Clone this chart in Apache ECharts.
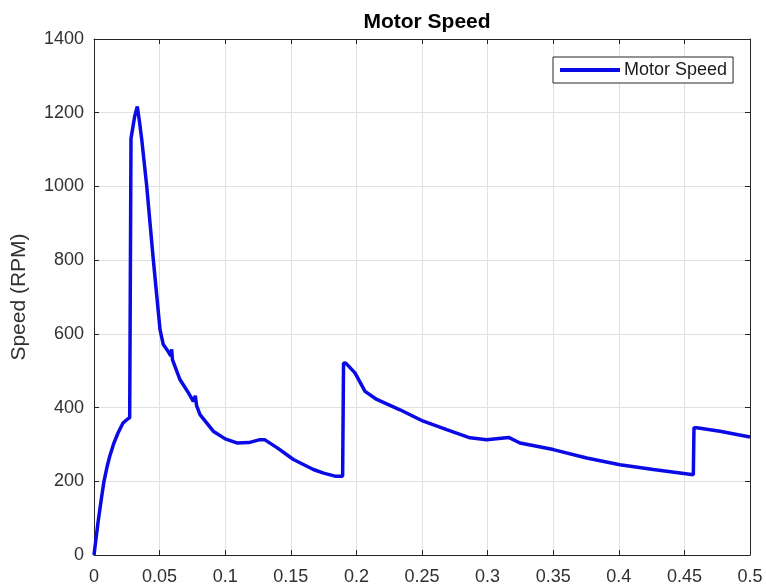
<!DOCTYPE html>
<html>
<head>
<meta charset="utf-8">
<script src="https://cdn.jsdelivr.net/npm/echarts@6/dist/echarts.min.js"></script>
<style>
  html, body { margin: 0; padding: 0; background: #fff; }
  #chart { width: 766px; height: 587px; }
</style>
</head>
<body>
<div id="chart"></div>
<script>
// 数据：时间 (s) 与转速 (RPM)
const timeS = [
  0, 0.003, 0.0055, 0.0076, 0.01, 0.012, 0.015, 0.0183, 0.0221, 0.025, 0.0272, 0.0277,
  0.0282, 0.031, 0.033, 0.0345, 0.0364, 0.0402, 0.0452, 0.0503, 0.0528,
  0.056, 0.0585, 0.0592, 0.0598, 0.0605, 0.0655, 0.072, 0.0757, 0.0772, 0.0782, 0.0808,
  0.0909, 0.0922, 0.1, 0.1088, 0.118, 0.1265, 0.13, 0.14, 0.152, 0.1672, 0.175, 0.1837,
  0.1895, 0.1902, 0.1921, 0.1989, 0.2066, 0.2155, 0.2332, 0.251, 0.2688, 0.2866, 0.2993,
  0.316, 0.3247, 0.3501, 0.3755, 0.4009, 0.4263, 0.4568, 0.4573, 0.4594, 0.4771, 0.5
];
const speedRpm = [
  0, 87, 150, 200, 240, 268, 302, 331, 358, 367, 373, 378,
  1130, 1190, 1217, 1180, 1127, 1000, 801, 612, 571,
  555, 540, 558, 530, 535, 476, 440, 417, 432, 405, 381,
  336, 331, 315, 304, 305, 313, 313, 290, 259, 232, 222, 214,
  214, 521, 520, 494, 444, 422, 394, 363, 340, 318, 313,
  319, 304, 286, 263, 245, 232, 218, 345, 345, 336, 320
];
const xTicks = [0, 0.05, 0.1, 0.15, 0.2, 0.25, 0.3, 0.35, 0.4, 0.45, 0.5];
const yTicks = [0, 200, 400, 600, 800, 1000, 1200, 1400];

const seriesData = timeS.map((t, i) => [t, speedRpm[i]]);

const chart = echarts.init(document.getElementById('chart'));
const fontFamily = 'Liberation Sans, Arial, sans-serif';
const labelFont = { fontFamily: fontFamily, fontSize: 18, color: '#303030' };

const axisCommon = {
  axisLine: { show: true, onZero: false, lineStyle: { color: '#262626', width: 1 } },
  axisTick: { show: true, inside: true, length: 5, lineStyle: { color: '#262626' } },
  splitLine: { show: true, lineStyle: { color: '#e0e0e0', width: 1 } }
};

chart.setOption({
  animation: false,
  backgroundColor: '#fff',
  title: {
    text: 'Motor Speed',
    left: 422, top: 7, textAlign: 'center',
    textStyle: { fontFamily: fontFamily, fontSize: 21, fontWeight: 'bold', color: '#000' }
  },
  grid: { left: 94, right: 16, top: 39, bottom: 32 },
  legend: {
    data: [{ name: 'Motor Speed', icon: 'rect' }],
    left: 553, top: 57,
    padding: [4, 6, 4, 7],
    itemWidth: 60, itemHeight: 4, itemGap: 4,
    backgroundColor: '#fff',
    borderColor: '#262626', borderWidth: 1, borderRadius: 0,
    textStyle: { fontFamily: fontFamily, fontSize: 18, color: '#1a1a1a', padding: [0, 0, 0, -1] }
  },
  xAxis: [
    Object.assign({}, axisCommon, {
      type: 'value', min: 0, max: 0.5, interval: 0.05,
      axisLabel: Object.assign({ margin: 13, formatter: v => xTicks.includes(+v.toFixed(2)) ? String(+v.toFixed(2)) : '' }, labelFont)
    }),
    Object.assign({}, axisCommon, {
      type: 'value', min: 0, max: 0.5, interval: 0.05, position: 'top',
      axisLabel: { show: false }, splitLine: { show: false }
    })
  ],
  yAxis: [
    Object.assign({}, axisCommon, {
      type: 'value', min: 0, max: 1400, interval: 200,
      name: 'Speed (RPM)', nameLocation: 'middle', nameGap: 64,
      nameTextStyle: { fontFamily: fontFamily, fontSize: 21, color: '#303030' },
      axisLabel: Object.assign({ margin: 10, formatter: v => yTicks.includes(v) ? String(v) : '' }, labelFont)
    }),
    Object.assign({}, axisCommon, {
      type: 'value', min: 0, max: 1400, interval: 200, position: 'right',
      axisLabel: { show: false }, splitLine: { show: false }
    })
  ],
  series: [{
    name: 'Motor Speed',
    type: 'line',
    data: seriesData,
    showSymbol: false,
    symbol: 'none',
    smooth: false,
    itemStyle: { color: '#0a0ae6' },
    lineStyle: { color: '#0a0ae6', width: 3.5 }
  }]
});
</script>
</body>
</html>
